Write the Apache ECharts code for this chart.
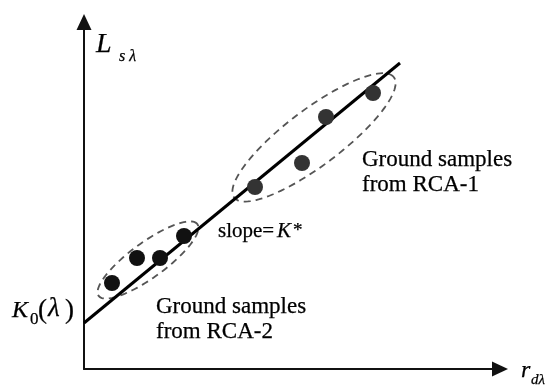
<!DOCTYPE html>
<html>
<head>
<meta charset="utf-8">
<script src="https://cdn.jsdelivr.net/npm/echarts@6/dist/echarts.min.js"></script>
<style>
html,body{margin:0;padding:0;background:#fff;}
#c{width:554px;height:388px;}
</style>
</head>
<body>
<div id="c"></div>
<script>
// ---- data (abstract units: reflectance r along x, radiance L along y) ----
const rca2X = [7, 13.25, 19, 25];
const rca2Y = [21.5, 27.75, 27.75, 33.25];
const rca1X = [42.75, 54.5, 60.5, 72.25];
const rca1Y = [45.5, 51.5, 63, 69];
const fitX = [0, 79];
const fitY = [11.5, 76.5];
// cluster outlines: centre x, centre y, semi-major, semi-minor, tilt (deg)
const clusterCx = [16, 57.5];
const clusterCy = [27.25, 57.9];
const clusterA = [15.25, 25];
const clusterB = [4.4, 7];
const clusterTilt = [36, 37];
const xMax = 104;
const yMax = 86.75;

const FONT = "'Liberation Serif','Times New Roman',serif";
const chart = echarts.init(document.getElementById('c'), null, {renderer: 'canvas'});

function zip(a, b) { return a.map((v, i) => [v, b[i]]); }

function txt(text, x, baseline, size, italic) {
  return {
    type: 'text', x: x, y: baseline - 0.32 * size, z: 100,
    style: {
      text: text,
      font: (italic ? 'italic ' : '') + size + 'px ' + FONT,
      fill: '#000',
      stroke: '#000',
      lineWidth: 0.25,
      verticalAlign: 'middle',
      align: 'left'
    }
  };
}

const axisCommon = {
  type: 'value', min: 0,
  axisLine: {show: true, symbol: ['none', 'triangle'], symbolSize: [15, 16],
    lineStyle: {color: '#111', width: 2}},
  axisTick: {show: false}, axisLabel: {show: false}, splitLine: {show: false}
};

chart.setOption({
  animation: false,
  backgroundColor: '#fff',
  grid: {left: 84, right: 54, top: 22, bottom: 19},
  xAxis: Object.assign({}, axisCommon, {max: xMax}),
  yAxis: Object.assign({}, axisCommon, {max: yMax}),
  series: [
    {
      type: 'custom', z: 1, silent: true,
      data: clusterCx.map((v, i) => [v, clusterCy[i], clusterA[i], clusterB[i], clusterTilt[i]]),
      renderItem: function (params, api) {
        const cx = api.value(0), cy = api.value(1), a = api.value(2), b = api.value(3);
        const ang = api.value(4) * Math.PI / 180;
        const pts = [];
        for (let k = 0; k < 120; k++) {
          const t = k / 120 * 2 * Math.PI;
          const dx = a * Math.cos(t), dy = b * Math.sin(t);
          pts.push(api.coord([cx + dx * Math.cos(ang) - dy * Math.sin(ang),
                              cy + dx * Math.sin(ang) + dy * Math.cos(ang)]));
        }
        return {type: 'polygon', shape: {points: pts},
          style: {fill: 'none', stroke: '#555', lineWidth: 1.8, lineDash: [7, 5]}};
      }
    },
    {
      type: 'line', z: 2, silent: true, symbol: 'none',
      data: zip(fitX, fitY),
      lineStyle: {color: '#000', width: 3}
    },
    {
      type: 'scatter', z: 3, silent: true, symbolSize: 16,
      data: zip(rca2X, rca2Y),
      itemStyle: {color: '#111', opacity: 1}
    },
    {
      type: 'scatter', z: 3, silent: true, symbolSize: 16,
      data: zip(rca1X, rca1Y),
      itemStyle: {color: '#333', opacity: 1}
    }
  ],
  graphic: [
    txt('L', 96, 54, 28, true),
    txt('s λ', 119, 62, 16, true),
    txt('K', 12, 318, 24, true),
    txt('0', 30, 325, 17, false),
    txt('(', 38, 320, 27, false),
    txt('λ', 48, 318, 27, true),
    txt(')', 65, 320, 27, false),
    txt('slope=', 218, 238, 21, false),
    txt('K', 277, 238, 21, true),
    txt('*', 293, 237, 19, false),
    txt('r', 521, 378, 24, true),
    txt('dλ', 531, 385, 15, true),
    txt('Ground samples', 362, 167, 23, false),
    txt('from RCA-1', 362, 192, 23, false),
    txt('Ground samples', 156, 314, 23, false),
    txt('from RCA-2', 156, 339, 23, false)
  ]
});
</script>
</body>
</html>
